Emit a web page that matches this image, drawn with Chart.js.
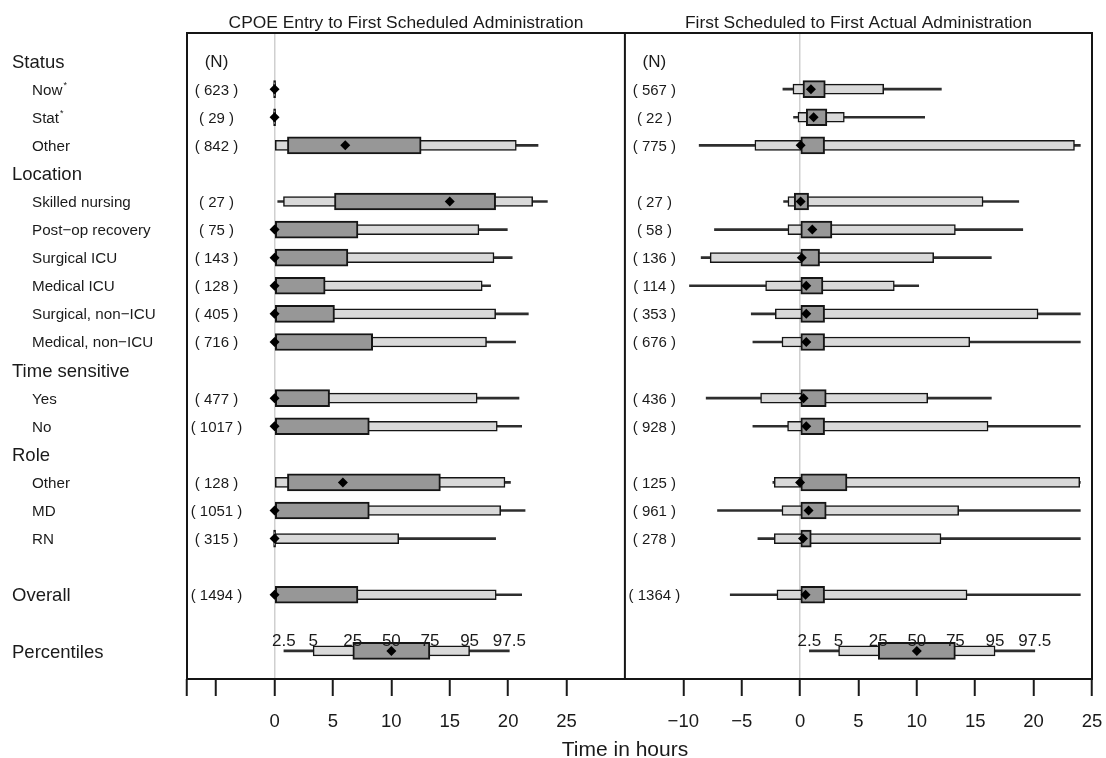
<!DOCTYPE html>
<html>
<head>
<meta charset="utf-8">
<title>Time to first administration</title>
<script src="https://cdn.jsdelivr.net/npm/chart.js@4.4.1/dist/chart.umd.min.js"></script>
<style>
  html, body { margin: 0; padding: 0; background: #fff; }
  #wrap { width: 1106px; height: 758px; position: relative; }
</style>
</head>
<body>
<div id="wrap"><canvas id="timing-chart"></canvas></div>
<script>
// row layout (row index = position down the panel)
var rowLabels = ['Status', 'Now', 'Stat', 'Other', 'Location', 'Skilled nursing', 'Post\u2212op recovery',
  'Surgical ICU', 'Medical ICU', 'Surgical, non\u2212ICU', 'Medical, non\u2212ICU', 'Time sensitive',
  'Yes', 'No', 'Role', 'Other', 'MD', 'RN', '', 'Overall', '', 'Percentiles'];
var headerRows = [0, 4, 11, 14, 19, 21];
var starRows = [1, 2];
var dataRows = [1, 2, 3, 5, 6, 7, 8, 9, 10, 12, 13, 15, 16, 17, 19];

// percentile key shown at the bottom of both panels
var legendRow = 21;
var legendPct = [0.8, 3.3, 6.7, 10, 13.3, 16.7, 20.1];
var legendLabels = ['2.5', '5', '25', '50', '75', '95', '97.5'];

// CPOE entry to first scheduled administration (hours)
var cpoeTitle = 'CPOE Entry to First Scheduled Administration';
var cpoeN    = [623, 29, 842, 27, 75, 143, 128, 405, 716, 477, 1017, 128, 1051, 315, 1494];
var cpoeP025 = [0, 0, 0, 0.27, 0, 0, 0, 0, 0, 0, 0, 0, 0, 0, 0];
var cpoeP05  = [0, 0, 0, 0.76, 0, 0, 0, 0, 0, 0, 0, 0, 0, 0, 0];
var cpoeP25  = [0, 0, 1.1, 5.13, 0, 0, 0, 0, 0, 0, 0, 1.1, 0, 0, 0];
var cpoeP50  = [0, 0, 6.05, 15.0, 0, 0, 0, 0, 0, 0, 0, 5.85, 0, 0, 0];
var cpoeP75  = [0, 0, 12.55, 18.93, 7.14, 6.28, 4.33, 5.13, 8.4, 4.71, 8.11, 14.2, 8.11, 0, 7.14];
var cpoeP95  = [0, 0, 20.7, 22.1, 17.5, 18.79, 17.78, 18.93, 18.15, 17.35, 19.07, 19.73, 19.36, 10.63, 18.98];
var cpoeP975 = [0, 0, 22.56, 23.36, 19.93, 20.35, 18.5, 21.73, 20.64, 20.93, 21.16, 20.2, 21.45, 18.93, 21.16];

// first scheduled to first actual administration (hours)
var schedTitle = 'First Scheduled to First Actual Administration';
var schedN    = [567, 22, 775, 27, 58, 136, 114, 353, 676, 436, 928, 125, 961, 278, 1364];
var schedP025 = [-1.47, -0.56, -8.64, -1.41, -7.33, -8.47, -9.47, -4.18, -4.04, -8.04, -4.04, -2.33, -7.07, -3.61, -5.98];
var schedP05  = [-0.61, -0.18, -3.87, -1.04, -1.04, -7.7, -2.95, -2.12, -1.55, -3.38, -1.07, -2.21, -1.55, -2.21, -1.98];
var schedP25  = [0.25, 0.53, 0, -0.5, 0, 0, 0, 0, 0, 0, 0, 0, 0, 0, 0];
var schedP50  = [0.93, 1.16, 0.05, 0.05, 1.05, 0.15, 0.53, 0.53, 0.53, 0.3, 0.53, 0, 0.73, 0.25, 0.47];
var schedP75  = [2.16, 2.3, 2.1, 0.73, 2.73, 1.67, 1.96, 2.1, 2.1, 2.24, 2.1, 4.02, 2.24, 0.96, 2.1];
var schedP95  = [7.16, 3.79, 23.5, 15.67, 13.3, 11.44, 8.07, 20.38, 14.53, 10.93, 16.1, 23.95, 13.58, 12.07, 14.3];
var schedP975 = [12.1, 10.67, 24, 18.73, 19.07, 16.38, 10.16, 24, 24, 16.38, 24, 24, 24, 24, 24];

// axis ticks
var xLTicks = [-7.5, -5, 0, 5, 10, 15, 20, 25];
var xLTickLabels = ['', '', '0', '5', '10', '15', '20', '25'];
var xRTicks = [-10, -5, 0, 5, 10, 15, 20, 25];
var xRTickLabels = ['\u221210', '\u22125', '0', '5', '10', '15', '20', '25'];
var xTitle = 'Time in hours';

var FONT = '"Liberation Sans", Arial, Helvetica, sans-serif';
Chart.defaults.font.family = FONT;

function boxSets(axisId, q) {
  var ys = dataRows.concat([legendRow]);
  function col(k) { return q[k].concat([legendPct[k]]); }
  var lo = col(0), q05 = col(1), q25 = col(2), med = col(3), q75 = col(4), q95 = col(5), hi = col(6);
  function span(a, b) {
    return ys.map(function (y, i) { return { x: [a[i], b[i]], y: y }; });
  }
  var common = { type: 'bar', xAxisID: axisId, yAxisID: 'y', grouped: false, borderSkipped: false };
  return [
    Object.assign({}, common, { label: 'whisker', order: 4, data: span(lo, hi),
      backgroundColor: '#2e2e2e', borderWidth: 0, barThickness: 2 }),
    Object.assign({}, common, { label: '5-95', order: 3, data: span(q05, q95),
      backgroundColor: '#d9d9d9', borderColor: '#151515', borderWidth: 1.5, barThickness: 10, minBarLength: 2 }),
    Object.assign({}, common, { label: '25-75', order: 2, data: span(q25, q75),
      backgroundColor: '#979797', borderColor: '#151515', borderWidth: 2, barThickness: 17, minBarLength: 2 }),
    { type: 'scatter', label: 'median', order: 1, xAxisID: axisId, yAxisID: 'y',
      data: ys.map(function (y, i) { return { x: med[i], y: y }; }),
      pointStyle: 'rectRot', pointRadius: 5, backgroundColor: '#000', borderColor: '#000', borderWidth: 0 }
  ];
}

function axisOptions(min, max, weight, ticks, labels) {
  return {
    type: 'linear', position: 'bottom', stack: 'panels', stackWeight: weight,
    min: min, max: max,
    afterBuildTicks: function (axis) {
      axis.ticks = ticks.map(function (v) { return { value: v }; });
    },
    afterFit: function (axis) {
      axis.height = 79;
      axis.paddingLeft = 0;
      axis.paddingRight = 0;
    },
    border: { display: false },
    grid: {
      color: function (c) { return (c.tick && c.tick.value === 0) ? '#cfcfcf' : 'rgba(0,0,0,0)'; },
      lineWidth: 1.5,
      tickColor: '#1a1a1a',
      tickLength: 17,
      tickWidth: 2
    },
    ticks: {
      autoSkip: false, maxRotation: 0, padding: 15, color: '#1a1a1a',
      font: { size: 18.5 },
      callback: function (v, i) { return labels[i]; }
    }
  };
}

var panelText = {
  id: 'panelText',
  afterDraw: function (chart) {
    var ctx = chart.ctx, area = chart.chartArea, s = chart.scales;
    var yAt = function (r) { return s.y.getPixelForValue(r); };
    ctx.save();
    ctx.fillStyle = '#1a1a1a';
    ctx.textBaseline = 'alphabetic';

    // row labels on the left
    rowLabels.forEach(function (txt, r) {
      if (!txt) return;
      var head = headerRows.indexOf(r) >= 0;
      var size = head ? 18.5 : 15.2;
      var x = head ? 12 : 32;
      var yy = yAt(r) + size * 0.36;
      ctx.font = size + 'px ' + FONT;
      ctx.textAlign = 'left';
      ctx.fillText(txt, x, yy);
      if (starRows.indexOf(r) >= 0) {
        var w = ctx.measureText(txt).width;
        ctx.font = '9px ' + FONT;
        ctx.fillText('*', x + w + 1, yy - 7);
      }
    });

    // per-panel text: titles, N column, percentile key
    [[s.xL, cpoeTitle, cpoeN], [s.xR, schedTitle, schedN]].forEach(function (p) {
      var sc = p[0];
      ctx.textAlign = 'center';
      ctx.font = '17.4px ' + FONT;
      ctx.fillText(p[1], (sc.left + sc.right) / 2, 28);
      var nx = sc.left + 29.5;
      ctx.font = '17px ' + FONT;
      ctx.fillText('(N)', nx, yAt(0) + 6);
      ctx.font = '15px ' + FONT;
      p[2].forEach(function (n, i) {
        ctx.fillText('( ' + n + ' )', nx, yAt(dataRows[i]) + 5.4);
      });
      ctx.font = '17px ' + FONT;
      legendLabels.forEach(function (lab, i) {
        ctx.fillText(lab, sc.getPixelForValue(legendPct[i]), yAt(20.6) + 6);
      });
    });

    // frame and panel divider
    ctx.strokeStyle = '#151515';
    ctx.lineWidth = 2;
    ctx.strokeRect(area.left, area.top, area.right - area.left, area.bottom - area.top);
    ctx.beginPath();
    ctx.moveTo(s.xL.right, area.top);
    ctx.lineTo(s.xL.right, area.bottom);
    ctx.stroke();

    // shared axis title
    ctx.font = '21px ' + FONT;
    ctx.textAlign = 'center';
    ctx.fillText(xTitle, 625, 756);
    ctx.restore();
  }
};

var ctx = document.getElementById('timing-chart').getContext('2d');
new Chart(ctx, {
  type: 'bar',
  data: {
    datasets: boxSets('xL', [cpoeP025, cpoeP05, cpoeP25, cpoeP50, cpoeP75, cpoeP95, cpoeP975])
      .concat(boxSets('xR', [schedP025, schedP05, schedP25, schedP50, schedP75, schedP95, schedP975]))
  },
  options: {
    indexAxis: 'y',
    responsive: true,
    maintainAspectRatio: false,
    animation: false,
    layout: { padding: { left: 187, top: 33, right: 14, bottom: 0 } },
    plugins: {
      legend: { display: false },
      tooltip: { enabled: false }
    },
    scales: {
      y: { type: 'linear', min: -1, max: 22, reverse: true, display: false, offset: false },
      xL: axisOptions(-7.5, 30, 37.5, xLTicks, xLTickLabels),
      xR: axisOptions(-15, 25, 40, xRTicks, xRTickLabels)
    }
  },
  plugins: [panelText]
});
</script>
</body>
</html>
